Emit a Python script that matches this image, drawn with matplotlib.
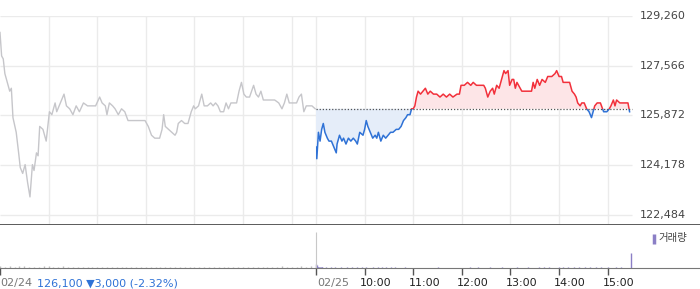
import numpy as np
import matplotlib.pyplot as plt
from matplotlib.patches import Rectangle

plt.rcParams['font.family'] = ['DejaVu Sans', 'Noto Sans CJK KR']
plt.rcParams['font.size'] = 8

# 전일(02/24) 분봉: 09:00 기준 분, 가격
day1_min = [0, 2, 4, 6, 9, 12, 14, 16, 20, 23, 25, 28, 31, 34, 37, 40, 42, 45, 47, 49,
            53, 57, 61, 64, 68, 70, 73, 76, 79, 82, 86, 90, 94, 98, 103, 108, 113, 118, 123, 126,
            130, 132, 135, 139, 142, 146, 150, 154, 158, 163, 167, 171, 175, 179, 183, 187, 191, 197, 200, 202,
            204, 208, 212, 216, 218, 220, 224, 228, 232, 236, 239, 241, 245, 249, 252, 256, 260, 263, 266, 269,
            272, 276, 279, 282, 285, 288, 292, 295, 298, 301, 304, 308, 313, 316, 319, 322, 325, 329, 333, 339,
            344, 348, 351, 354, 357, 362, 366, 369, 372, 375, 378, 385, 389]
day1_price = [128700, 127900, 127800, 127300, 127000, 126700, 126800, 125800, 125300, 124600,
              124100, 123900, 124200, 123600, 123100, 124200, 124000, 124600, 124500, 125500,
              125400, 125000, 126000, 125900, 126300, 126000, 126200, 126400, 126600, 126200,
              126100, 125900, 126200, 126000, 126300, 126200, 126200, 126200, 126500, 126300,
              126200, 125900, 126300, 126200, 126100, 125900, 126100, 126000, 125700, 125700,
              125700, 125700, 125700, 125700, 125500, 125200, 125100, 125100, 125400, 125900,
              125500, 125400, 125300, 125200, 125300, 125600, 125700, 125600, 125600, 126000,
              126200, 126100, 126200, 126600, 126200, 126200, 126300, 126200, 126300, 126200,
              126000, 126000, 126300, 126100, 126300, 126300, 126300, 126700, 127000, 126600,
              126500, 126500, 126900, 126600, 126500, 126700, 126400, 126400, 126400, 126400,
              126300, 126100, 126300, 126600, 126300, 126300, 126300, 126500, 126600, 126000,
              126200, 126200, 126100]

# 당일(02/25) 분봉
day2_min = [0, 1, 3, 5, 7, 9, 11, 14, 16, 19, 22, 25, 26, 29, 32, 34, 37, 40, 43, 46,
            49, 51, 54, 58, 60, 62, 64, 67, 70, 73, 75, 77, 80, 83, 86, 89, 92, 95, 99, 102,
            105, 108, 111, 113, 116, 118, 120, 122, 124, 126, 129, 132, 135, 138, 141, 145, 149, 153, 157, 161,
            165, 169, 174, 177, 179, 183, 187, 191, 194, 198, 202, 207, 209, 212, 215, 218, 220, 223, 226, 229,
            232, 234, 237, 239, 242, 244, 246, 248, 250, 254, 257, 262, 266, 268, 270, 273, 276, 279, 283, 286,
            291, 295, 297, 300, 303, 305, 309, 313, 316, 319, 321, 323, 326, 328, 331, 334, 337, 340, 344, 347,
            351, 355, 359, 362, 364, 367, 369, 371, 375, 381, 385, 387]
day2_price = [124800, 124400, 125300, 125000, 125400, 125600, 125300, 125100, 125000, 125000,
              124800, 124600, 124900, 125200, 125000, 125100, 124900, 125100, 125000, 125100,
              125000, 124900, 125300, 125200, 125400, 125700, 125500, 125300, 125100, 125200,
              125100, 125300, 125000, 125200, 125100, 125200, 125300, 125300, 125400, 125400,
              125500, 125700, 125800, 125900, 125900, 126100, 126100, 126200, 126500, 126700,
              126600, 126700, 126800, 126600, 126700, 126600, 126600, 126500, 126600, 126500,
              126600, 126500, 126600, 126600, 126900, 126900, 127000, 126900, 127000, 126900,
              126900, 126900, 126800, 126500, 126700, 126800, 126600, 126900, 126800, 127100,
              127400, 127300, 127400, 126900, 127100, 127100, 126800, 127000, 126900, 126700,
              126700, 126700, 126700, 127000, 126800, 127100, 126900, 127100, 127000, 127200,
              127200, 127300, 127400, 127200, 127200, 127000, 127000, 127000, 126700, 126600,
              126500, 126300, 126200, 126300, 126300, 126100, 126000, 125800, 126200, 126300,
              126300, 126000, 126000, 126100, 126200, 126400, 126200, 126400, 126300, 126300,
              126300, 126000]

prev_close = 126100
change_text = '126,100 \u25bc3,000 (-2.32%)'
y_ticks = [122484, 124178, 125872, 127566, 129260]
hour_labels = ['10:00', '11:00', '12:00', '13:00', '14:00', '15:00']

# 거래량
vol1_min = list(range(0, 390, 6))
vol1 = [5200, 3100, 4300, 2600, 3800, 4700, 2900, 3300, 2400, 3600, 4100, 2800, 3000, 3500, 2600,
        2200, 3100, 2700, 2400, 3300, 2100, 2900, 2500, 3200, 2300, 2000, 2800, 2600, 3100, 2400,
        2200, 2700, 2900, 2300, 3000, 2500, 2100, 2600, 2400, 2800, 3400, 2600, 2300, 2700, 3200,
        2500, 2900, 2400, 3100, 2600, 2200, 2800, 3300, 2500, 2700, 3000, 2400, 2900, 3500, 2600,
        3200, 2800, 3900, 3300, 4100]
vol2_min = [0, 1, 2, 3, 4, 5, 6, 7, 8, 12, 18, 24, 31, 38, 45, 50, 57, 62, 70, 76, 81, 86, 92,
            98, 110, 125, 150, 190, 200, 208, 215, 230, 248, 262, 275, 282, 288, 300, 305, 311,
            318, 324, 332, 338, 346, 352, 360, 370, 376, 389]
vol2 = [8200, 6500, 3400, 2600, 2400, 2500, 2200, 2600, 2300, 1800, 1600, 1500, 1700, 1400, 1900,
        1500, 1400, 1600, 1500, 1400, 1500, 1700, 1400, 1300, 1200, 1100, 1200, 1300, 1200, 1100,
        1300, 1200, 1300, 1200, 1400, 1300, 1200, 1600, 1400, 1300, 1500, 2800, 1600, 1400, 1300,
        1500, 1400, 1300, 1200, 35000]

red = '#f2303b'
blue = '#2f72d6'
purple = '#8b7fc6'
grid_c = '#ebebeb'

x1 = np.array(day1_min)
p1 = np.array(day1_price)
x2 = np.array(day2_min) + 390
p2 = np.array(day2_price)
x_end = 780
x_max = x_end * 700 / 632

fig = plt.figure(figsize=(7, 2.89), dpi=100)
ax = fig.add_axes([0, 64 / 289, 1, 209 / 289])
axv = fig.add_axes([0, 21 / 289, 1, 43 / 289])

y_lo = y_ticks[0] - (y_ticks[1] - y_ticks[0]) * 10 / 49.75
ax.set_xlim(0, x_max)
ax.set_ylim(y_lo, y_ticks[-1])

# 격자
ax.hlines(y_ticks, 0, x_end, color=grid_c, lw=1, zorder=0)
grid_x = [60, 120, 180, 240, 300, 360, 390, 450, 510, 570, 630, 690, 750]
ax.vlines(grid_x, y_lo, y_ticks[-1], color=grid_c, lw=1, zorder=0)

ax.plot(x1, p1, color='#c6c6ca', lw=1)

ax.fill_between(x2, p2, prev_close, where=p2 >= prev_close, interpolate=True,
                color='#fde5e7', lw=0)
ax.fill_between(x2, p2, prev_close, where=p2 <= prev_close, interpolate=True,
                color='#e5edf9', lw=0)
l_red, = ax.plot(x2, p2, color=red, lw=1.1)
l_blue, = ax.plot(x2, p2, color=blue, lw=1.1)
l_red.set_clip_path(Rectangle((390, prev_close), 500, 10000, transform=ax.transData))
l_blue.set_clip_path(Rectangle((390, prev_close - 10000), 500, 10000, transform=ax.transData))
ax.hlines(prev_close, 390, x_end, color='#555555', lw=0.9, linestyles=(0, (1, 1.5)))

for v in y_ticks:
    ax.text(x_end * 640 / 632, v, f'{v:,}', ha='left', va='center', color='#444444', fontsize=8)

for s in ['top', 'right', 'left']:
    ax.spines[s].set_visible(False)
ax.spines['bottom'].set_color('#5a5a5a')
ax.spines['bottom'].set_linewidth(1.4)
ax.set_xticks([])
ax.set_yticks([])

# 거래량 패널
axv.set_xlim(0, x_max)
axv.set_ylim(0, 100000)
axv.vlines(vol1_min, 0, vol1, color='#bdbdbd', lw=1.0)
axv.vlines(np.array(vol2_min) + 390, 0, vol2, color=purple, lw=1.0)
axv.vlines(390, 0, 83000, color='#c8c8c8', lw=0.8)
for s in ['top', 'right', 'left']:
    axv.spines[s].set_visible(False)
axv.spines['bottom'].set_color('#777777')
axv.set_yticks([])
axv.set_xticks([0, 390, 450, 510, 570, 630, 690, 750])
axv.tick_params(axis='x', length=5, width=1, color='#555555', labelbottom=False)

trans = axv.get_xaxis_transform()
ly = -15 / 43
axv.text(0, ly, '02/24', transform=trans, ha='left', va='center', color='#777777', fontsize=8)
axv.text(45.5, ly, change_text, transform=trans, ha='left', va='center', color=blue, fontsize=8)
axv.text(391, ly, '02/25', transform=trans, ha='left', va='center', color='#777777', fontsize=8)
for i, lab in enumerate(hour_labels):
    axv.text(450 + 60 * i - 6, ly, lab, transform=trans, ha='left', va='center',
             color='#222222', fontsize=8)

axv.plot([654 / 700], [(268 - 238.5) / 43], marker='|', markersize=7, mew=2.5, color=purple,
         transform=axv.transAxes, clip_on=False)
axv.text(658 / 700, (268 - 238) / 43, '거래량', transform=axv.transAxes, ha='left', va='center',
         color='#444444', fontsize=7.5)

fig.savefig('out.png', dpi=100)
